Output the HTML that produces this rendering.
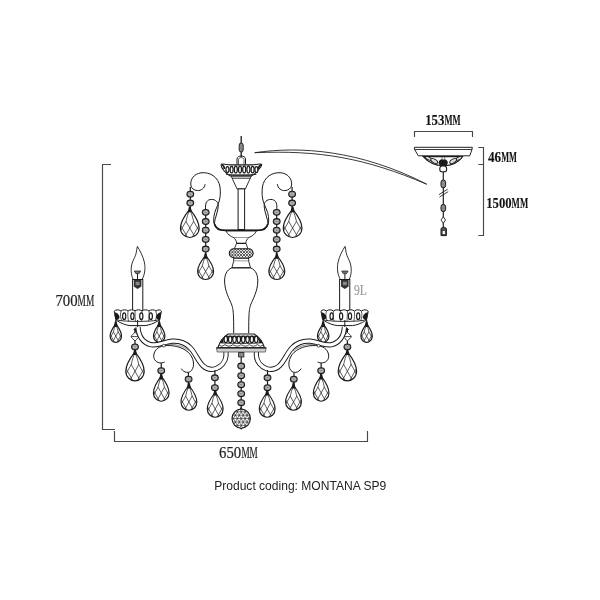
<!DOCTYPE html>
<html><head><meta charset="utf-8"><style>html,body{margin:0;padding:0;background:#fff;width:600px;height:600px;overflow:hidden}svg{display:block;filter:grayscale(100%)}</style></head>
<body><svg width="600" height="600" viewBox="0 0 600 600">
<defs>
<clipPath id="dclip"><path d="M0,0 C-4,5 -10,12 -10,20 C-10,26 -5,30 0,30 C5,30 10,26 10,20 C10,12 4,5 0,0 Z"/></clipPath>
<clipPath id="lowclip"><rect x="-12" y="12.9" width="24" height="20"/></clipPath>
<g id="drop">
 <path d="M0,0 C-4,5 -10,12 -10,20 C-10,26 -5,30 0,30 C5,30 10,26 10,20 C10,12 4,5 0,0 Z" fill="#fff" stroke="#1a1a1a" stroke-width="1.15" vector-effect="non-scaling-stroke"/>
 <g clip-path="url(#dclip)" fill="none">
  <path vector-effect="non-scaling-stroke" stroke="#2a2a2a" stroke-width="0.75" d="M-0.5,1.5 Q-2.8,7 -4.1,13 M0.5,1.5 Q2.8,7 4.1,13"/>
  <g clip-path="url(#lowclip)"><path vector-effect="non-scaling-stroke" stroke="#2a2a2a" stroke-width="0.75" d="M-28.40,-0.40 L-4.40,40.40 M-4.40,-0.40 L-28.40,40.40 M-20.20,-0.40 L3.80,40.40 M3.80,-0.40 L-20.20,40.40 M-12.00,-0.40 L12.00,40.40 M12.00,-0.40 L-12.00,40.40 M-3.80,-0.40 L20.20,40.40 M20.20,-0.40 L-3.80,40.40 M4.40,-0.40 L28.40,40.40 M28.40,-0.40 L4.40,40.40"/></g>
 </g>
</g>
<pattern id="knurl" patternUnits="userSpaceOnUse" width="2.9" height="2.9" x="229.5" y="249.2">
 <rect width="2.9" height="2.9" fill="#fff"/><path d="M0,0 L2.9,2.9 M2.9,0 L0,2.9" stroke="#222" stroke-width="0.75"/>
</pattern>
<pattern id="ballpat" patternUnits="userSpaceOnUse" width="4" height="3.46" x="1" y="0.5">
 <rect width="4" height="3.46" fill="#fff"/><path d="M0,0 L4,0 M0,3.46 L4,3.46 M0,0 L2,3.46 L4,0 M-2,3.46 L0,0 M4,0 L6,3.46 M2,3.46 L0,6.92 M2,3.46 L4,6.92 M0,-3.46 L2,0 M4,-3.46 L2,0" stroke="#2a2a2a" stroke-width="0.55"/>
</pattern>
</defs>
<rect width="600" height="600" fill="#fff"/>
<path d="M111,164.5 L102.5,164.5 L102.5,429.5 L115,429.5" fill="none" stroke="#484848" stroke-width="1.15"/>
<path d="M114.5,431 L114.5,441.5 L367.5,441.5 L367.5,431" fill="none" stroke="#484848" stroke-width="1.15"/>
<path d="M414.5,137 L414.5,131.5 L472.5,131.5 L472.5,137" fill="none" stroke="#484848" stroke-width="1.15"/>
<path d="M478.3,147.5 L483.5,147.5 L483.5,235.5 L478.3,235.5 M478.3,164.5 L483.5,164.5" fill="none" stroke="#484848" stroke-width="1.15"/>
<path d="M254.7,152.7 C300,146 360,150 426.7,184.2 C365,158 320,150 254.7,152.7 Z" fill="#fff" stroke="#222" stroke-width="0.9"/>
<path d="M414.3,147.3 L472.3,147.3 L472,149.5 L469.7,155.8 L418.3,155.8 L414.6,149.5 Z" fill="#fff" stroke="#222" stroke-width="1"/>
<line x1="414.6" y1="149.5" x2="472" y2="149.5" stroke="#222" stroke-width="0.9"/>
<path d="M423.2,156.6 C427,161 434,165.5 443.7,165.8 C453.4,165.5 459.4,161 462.4,156.6 Z" fill="#fff" stroke="#1a1a1a" stroke-width="1.1"/>
<ellipse cx="428.5" cy="158.4" rx="3.2" ry="1.4" transform="rotate(25 428.5 158.4)" fill="#ddd" stroke="#1a1a1a" stroke-width="0.9"/>
<ellipse cx="434.2" cy="161" rx="3.8" ry="1.8" transform="rotate(30 434.2 161)" fill="#ddd" stroke="#1a1a1a" stroke-width="0.9"/>
<ellipse cx="458.9" cy="158.4" rx="3.2" ry="1.4" transform="rotate(-25 458.9 158.4)" fill="#ddd" stroke="#1a1a1a" stroke-width="0.9"/>
<ellipse cx="453.2" cy="161" rx="3.8" ry="1.8" transform="rotate(-30 453.2 161)" fill="#ddd" stroke="#1a1a1a" stroke-width="0.9"/>
<ellipse cx="443.2" cy="162.6" rx="4.6" ry="3.6" fill="#1a1a1a"/>
<rect x="441.8" y="157" width="3" height="2.8" rx="1" fill="#eee" stroke="#333" stroke-width="0.6"/>
<rect x="439.8" y="166" width="6.8" height="5.8" rx="2.4" fill="#fff" stroke="#1a1a1a" stroke-width="1.1"/>
<line x1="443.3" y1="172" x2="443.3" y2="227" stroke="#222" stroke-width="1.2"/>
<rect x="441" y="180" width="4.6" height="7.8" rx="2.2" fill="#8a8a8a" stroke="#1a1a1a" stroke-width="1"/>
<path d="M439,194.6 L447.7,189.2 M439.5,197 L448.2,191.6" stroke="#222" stroke-width="0.9"/>
<rect x="441" y="204.4" width="4.6" height="7.2" rx="2.2" fill="#8a8a8a" stroke="#1a1a1a" stroke-width="1"/>
<path d="M443.3,216.8 L445.5,220 L443.3,223.3 L441,220 Z" fill="#fff" stroke="#222" stroke-width="0.9"/>
<path d="M441,235.6 L441,229 C441,226.8 446.4,226.8 446.4,229 L446.4,235.6 Z" fill="#555" stroke="#1a1a1a" stroke-width="1"/>
<rect x="442.2" y="230.6" width="3" height="3.8" fill="#fff" stroke="#222" stroke-width="0.6"/>
<g id="lh">
<path d="M205.1,184.2 C204.4,188.5 201,190.8 197.5,190.6 C194,190.4 191.2,188.4 190.8,185 C190.3,179 194,174 201,172.8 C210,171.8 218.5,177 220,187 C221,196 219.5,201 217.6,205.5 C215.6,210 213.4,214.5 213.7,221 C214,227 218,230.3 224,230.3 L241.2,230.3" fill="none" stroke="#1a1a1a" stroke-width="1"/>
<path d="M205.6,210 C205.2,204 206,200.5 210,199.6 C214,198.8 218,201 218.2,205 C218.4,209 216.8,213 215.8,217 C215.1,219.5 214.6,221 214.4,224" fill="none" stroke="#1a1a1a" stroke-width="1"/>
<path d="M214.6,224 C215.5,228 219,230.4 225,230.4 L241.2,230.4" fill="none" stroke="#1a1a1a" stroke-width="1.7"/>
<line x1="190.30" y1="187.00" x2="190.30" y2="209.00" stroke="#1a1a1a" stroke-width="1.2"/>
<ellipse cx="190.30" cy="194.20" rx="3.4" ry="2.9" fill="#858585" stroke="#1a1a1a" stroke-width="1.05"/><ellipse cx="190.30" cy="194.20" rx="1.70" ry="1.22" fill="none" stroke="#d8d8d8" stroke-width="0.7"/>
<ellipse cx="190.30" cy="203.00" rx="3.4" ry="2.9" fill="#858585" stroke="#1a1a1a" stroke-width="1.05"/><ellipse cx="190.30" cy="203.00" rx="1.70" ry="1.22" fill="none" stroke="#d8d8d8" stroke-width="0.7"/>
<use href="#drop" transform="translate(189.80,209.00) scale(0.935,0.950)"/>
<path d="M187.70,212.20 L188.90,206.80 L190.70,206.80 L191.90,212.20 Z" fill="#1a1a1a"/>
<line x1="205.70" y1="209.00" x2="205.70" y2="256.00" stroke="#1a1a1a" stroke-width="1.2"/>
<ellipse cx="205.70" cy="212.30" rx="3.4" ry="2.9" fill="#858585" stroke="#1a1a1a" stroke-width="1.05"/><ellipse cx="205.70" cy="212.30" rx="1.70" ry="1.22" fill="none" stroke="#d8d8d8" stroke-width="0.7"/>
<ellipse cx="205.70" cy="221.50" rx="3.4" ry="2.9" fill="#858585" stroke="#1a1a1a" stroke-width="1.05"/><ellipse cx="205.70" cy="221.50" rx="1.70" ry="1.22" fill="none" stroke="#d8d8d8" stroke-width="0.7"/>
<ellipse cx="205.70" cy="230.20" rx="3.4" ry="2.9" fill="#858585" stroke="#1a1a1a" stroke-width="1.05"/><ellipse cx="205.70" cy="230.20" rx="1.70" ry="1.22" fill="none" stroke="#d8d8d8" stroke-width="0.7"/>
<ellipse cx="205.70" cy="239.40" rx="3.4" ry="2.9" fill="#858585" stroke="#1a1a1a" stroke-width="1.05"/><ellipse cx="205.70" cy="239.40" rx="1.70" ry="1.22" fill="none" stroke="#d8d8d8" stroke-width="0.7"/>
<ellipse cx="205.70" cy="249.00" rx="3.4" ry="2.9" fill="#858585" stroke="#1a1a1a" stroke-width="1.05"/><ellipse cx="205.70" cy="249.00" rx="1.70" ry="1.22" fill="none" stroke="#d8d8d8" stroke-width="0.7"/>
<use href="#drop" transform="translate(205.60,255.50) scale(0.800,0.800)"/>
<path d="M203.50,258.70 L204.70,253.30 L206.50,253.30 L207.70,258.70 Z" fill="#1a1a1a"/>
<path d="M137.4,246.4 C139.6,250 143,256 144.3,262 C145.6,268 145,274 142.1,279.5 L133.3,279.5 C130.8,275 130.6,268 132.2,263 C133.5,259 135.6,256.5 136.3,252.5 C136.6,250.5 136.8,248.5 137.4,246.4 Z" fill="#fff" stroke="#1a1a1a" stroke-width="0.9"/>
<path d="M134.3,271 L140.7,271 L139.2,273.6 L135.8,273.6 Z" fill="#777" stroke="#1a1a1a" stroke-width="0.7"/>
<line x1="137.5" y1="273.5" x2="137.5" y2="279.5" stroke="#1a1a1a" stroke-width="1"/>
<rect x="132.6" y="279.5" width="10.2" height="31" fill="#fff" stroke="#1a1a1a" stroke-width="1"/>
<path d="M133.8,280 L141.4,280 L141.4,286.5 L137.6,289 L133.8,286.5 Z" fill="#333"/>
<rect x="135.6" y="281.8" width="4" height="3.4" fill="#888"/>
<path d="M114.2,311.2 C116,309.2 119,309.6 121,311 C123,309.4 126,309.4 128,311 C130,309.4 133,309.4 135,311 C137,309.4 140,309.4 142,311 C144,309.4 147,309.4 149,311 C151,309.4 154,309.4 156,311 C158,309.4 160.5,309.6 161.4,311.2 C161,314 160,318 158.5,320.5 C154,323.5 149,325.2 145,325.6 L130,325.6 C126,325.2 121,323.5 116.8,320.5 C115.5,318 114.5,314 114.2,311.2 Z" fill="#fff" stroke="#1a1a1a" stroke-width="1"/>
<path d="M118,320.2 C126,321.8 149,321.8 157.4,320.2" fill="none" stroke="#1a1a1a" stroke-width="0.9"/>
<path d="M121,311.2 C120,315 120.5,318.5 122,321 M128,311.2 C127.6,315 127.9,318.5 128.6,321.4 M135,311.2 C135,315 135.2,318.5 135.4,321.6 M142,311.2 C142,315 141.8,318.5 141.6,321.6 M149,311.2 C149.4,315 149.1,318.5 148.4,321.4 M156,311.2 C157,315 156.5,318.5 155,321" fill="none" stroke="#1a1a1a" stroke-width="0.7"/>
<ellipse cx="124.2" cy="316.2" rx="1.6" ry="3.3" fill="#fff" stroke="#1a1a1a" stroke-width="1.2"/>
<ellipse cx="132.4" cy="316.2" rx="1.6" ry="3.3" fill="#fff" stroke="#1a1a1a" stroke-width="1.2"/>
<ellipse cx="141.3" cy="316.2" rx="1.6" ry="3.3" fill="#fff" stroke="#1a1a1a" stroke-width="1.2"/>
<ellipse cx="150.8" cy="316.2" rx="1.6" ry="3.3" fill="#fff" stroke="#1a1a1a" stroke-width="1.2"/>
<path d="M114.6,312.2 C117,312.5 119.5,314.5 119.5,317.5 C118.5,320 116.5,320.5 115.5,320 C114.8,318 114.5,315 114.6,312.2 Z" fill="#1a1a1a"/>
<path d="M161,312.2 C158.6,312.5 156.1,314.5 156.1,317.5 C157.1,320 159.1,320.5 160.1,320 C160.8,318 161.1,315 161,312.2 Z" fill="#1a1a1a"/>
<line x1="137.6" y1="320" x2="137.6" y2="329" stroke="#1a1a1a" stroke-width="1"/>
<line x1="115.80" y1="320.00" x2="115.80" y2="324.00" stroke="#1a1a1a" stroke-width="1.2"/>
<use href="#drop" transform="translate(115.80,323.80) scale(0.570,0.617)"/>
<path d="M113.70,327.00 L114.90,321.60 L116.70,321.60 L117.90,327.00 Z" fill="#1a1a1a"/>
<line x1="159.20" y1="320.00" x2="159.20" y2="324.00" stroke="#1a1a1a" stroke-width="1.2"/>
<use href="#drop" transform="translate(159.20,323.80) scale(0.570,0.617)"/>
<path d="M157.10,327.00 L158.30,321.60 L160.10,321.60 L161.30,327.00 Z" fill="#1a1a1a"/>
<line x1="135.00" y1="328.00" x2="135.00" y2="352.00" stroke="#1a1a1a" stroke-width="1.2"/>
<path d="M133.2,329 L136.8,329 L136.2,332.5 Z" fill="#1a1a1a"/><path d="M135,332.3 C136.5,334 138.6,335.2 138.8,336.6 C138.6,338 136.5,339.2 135,340.9 C133.5,339.2 131.4,338 131.2,336.6 C131.4,335.2 133.5,334 135,332.3 Z" fill="#fff" stroke="#1a1a1a" stroke-width="0.9"/>
<line x1="131.2" y1="336.6" x2="138.8" y2="336.6" stroke="#1a1a1a" stroke-width="0.8"/>
<ellipse cx="135.00" cy="346.90" rx="3.4" ry="2.9" fill="#858585" stroke="#1a1a1a" stroke-width="1.05"/><ellipse cx="135.00" cy="346.90" rx="1.70" ry="1.22" fill="none" stroke="#d8d8d8" stroke-width="0.7"/>
<use href="#drop" transform="translate(135.00,351.90) scale(0.920,0.967)"/>
<path d="M132.90,355.10 L134.10,349.70 L135.90,349.70 L137.10,355.10 Z" fill="#1a1a1a"/>
<path d="M138,327 C138.5,336 143,343 151.5,344.8 C158,346 164,342 172,341.2 C180,340.6 186,343.5 190,347.5 C195,352.5 198,361 203,365.8 C207,369.5 212,370 216,368.6 C221,366.8 225.5,362 226,356 L226,351" fill="none" stroke="#1a1a1a" stroke-width="5.2"/>
<path d="M138,327 C138.5,336 143,343 151.5,344.8 C158,346 164,342 172,341.2 C180,340.6 186,343.5 190,347.5 C195,352.5 198,361 203,365.8 C207,369.5 212,370 216,368.6 C221,366.8 225.5,362 226,356 L226,351" fill="none" stroke="#fff" stroke-width="3.3"/>
<path d="M164.7,362 C161,364 155,363 153.8,357.5 C153,351 158,346.5 164,345.8 C172,344.8 182,346.5 188.5,352.5 C194,358 195,366 191.5,370.5 C189,373.5 184,373 181.3,368.7" fill="none" stroke="#1a1a1a" stroke-width="1"/>
<path d="M166,344.6 C174,343.6 183,345.5 189.5,351" fill="none" stroke="#555" stroke-width="0.7"/>
<circle cx="163.8" cy="345.7" r="1.4" fill="#fff" stroke="#1a1a1a" stroke-width="0.7"/>
<line x1="161.25" y1="363.00" x2="161.25" y2="377.00" stroke="#1a1a1a" stroke-width="1.2"/>
<ellipse cx="161.25" cy="370.70" rx="3.4" ry="2.9" fill="#858585" stroke="#1a1a1a" stroke-width="1.05"/><ellipse cx="161.25" cy="370.70" rx="1.70" ry="1.22" fill="none" stroke="#d8d8d8" stroke-width="0.7"/>
<use href="#drop" transform="translate(161.25,376.25) scale(0.780,0.833)"/>
<path d="M159.15,379.45 L160.35,374.05 L162.15,374.05 L163.35,379.45 Z" fill="#1a1a1a"/>
<line x1="188.40" y1="372.50" x2="188.40" y2="386.00" stroke="#1a1a1a" stroke-width="1.2"/>
<ellipse cx="188.60" cy="379.20" rx="3.4" ry="2.9" fill="#858585" stroke="#1a1a1a" stroke-width="1.05"/><ellipse cx="188.60" cy="379.20" rx="1.70" ry="1.22" fill="none" stroke="#d8d8d8" stroke-width="0.7"/>
<use href="#drop" transform="translate(188.90,385.30) scale(0.790,0.833)"/>
<path d="M186.80,388.50 L188.00,383.10 L189.80,383.10 L191.00,388.50 Z" fill="#1a1a1a"/>
<line x1="214.90" y1="370.00" x2="214.90" y2="393.00" stroke="#1a1a1a" stroke-width="1.2"/>
<ellipse cx="214.90" cy="377.75" rx="3.4" ry="2.9" fill="#858585" stroke="#1a1a1a" stroke-width="1.05"/><ellipse cx="214.90" cy="377.75" rx="1.70" ry="1.22" fill="none" stroke="#d8d8d8" stroke-width="0.7"/>
<ellipse cx="214.90" cy="387.70" rx="3.4" ry="2.9" fill="#858585" stroke="#1a1a1a" stroke-width="1.05"/><ellipse cx="214.90" cy="387.70" rx="1.70" ry="1.22" fill="none" stroke="#d8d8d8" stroke-width="0.7"/>
<use href="#drop" transform="translate(215.20,392.30) scale(0.790,0.833)"/>
<path d="M213.10,395.50 L214.30,390.10 L216.10,390.10 L217.30,395.50 Z" fill="#1a1a1a"/>
</g>
<g transform="translate(482.40,0) scale(-1,1)">
<path d="M205.1,184.2 C204.4,188.5 201,190.8 197.5,190.6 C194,190.4 191.2,188.4 190.8,185 C190.3,179 194,174 201,172.8 C210,171.8 218.5,177 220,187 C221,196 219.5,201 217.6,205.5 C215.6,210 213.4,214.5 213.7,221 C214,227 218,230.3 224,230.3 L241.2,230.3" fill="none" stroke="#1a1a1a" stroke-width="1"/>
<path d="M205.6,210 C205.2,204 206,200.5 210,199.6 C214,198.8 218,201 218.2,205 C218.4,209 216.8,213 215.8,217 C215.1,219.5 214.6,221 214.4,224" fill="none" stroke="#1a1a1a" stroke-width="1"/>
<path d="M214.6,224 C215.5,228 219,230.4 225,230.4 L241.2,230.4" fill="none" stroke="#1a1a1a" stroke-width="1.7"/>
<line x1="190.30" y1="187.00" x2="190.30" y2="209.00" stroke="#1a1a1a" stroke-width="1.2"/>
<ellipse cx="190.30" cy="194.20" rx="3.4" ry="2.9" fill="#858585" stroke="#1a1a1a" stroke-width="1.05"/><ellipse cx="190.30" cy="194.20" rx="1.70" ry="1.22" fill="none" stroke="#d8d8d8" stroke-width="0.7"/>
<ellipse cx="190.30" cy="203.00" rx="3.4" ry="2.9" fill="#858585" stroke="#1a1a1a" stroke-width="1.05"/><ellipse cx="190.30" cy="203.00" rx="1.70" ry="1.22" fill="none" stroke="#d8d8d8" stroke-width="0.7"/>
<use href="#drop" transform="translate(189.80,209.00) scale(0.935,0.950)"/>
<path d="M187.70,212.20 L188.90,206.80 L190.70,206.80 L191.90,212.20 Z" fill="#1a1a1a"/>
<line x1="205.70" y1="209.00" x2="205.70" y2="256.00" stroke="#1a1a1a" stroke-width="1.2"/>
<ellipse cx="205.70" cy="212.30" rx="3.4" ry="2.9" fill="#858585" stroke="#1a1a1a" stroke-width="1.05"/><ellipse cx="205.70" cy="212.30" rx="1.70" ry="1.22" fill="none" stroke="#d8d8d8" stroke-width="0.7"/>
<ellipse cx="205.70" cy="221.50" rx="3.4" ry="2.9" fill="#858585" stroke="#1a1a1a" stroke-width="1.05"/><ellipse cx="205.70" cy="221.50" rx="1.70" ry="1.22" fill="none" stroke="#d8d8d8" stroke-width="0.7"/>
<ellipse cx="205.70" cy="230.20" rx="3.4" ry="2.9" fill="#858585" stroke="#1a1a1a" stroke-width="1.05"/><ellipse cx="205.70" cy="230.20" rx="1.70" ry="1.22" fill="none" stroke="#d8d8d8" stroke-width="0.7"/>
<ellipse cx="205.70" cy="239.40" rx="3.4" ry="2.9" fill="#858585" stroke="#1a1a1a" stroke-width="1.05"/><ellipse cx="205.70" cy="239.40" rx="1.70" ry="1.22" fill="none" stroke="#d8d8d8" stroke-width="0.7"/>
<ellipse cx="205.70" cy="249.00" rx="3.4" ry="2.9" fill="#858585" stroke="#1a1a1a" stroke-width="1.05"/><ellipse cx="205.70" cy="249.00" rx="1.70" ry="1.22" fill="none" stroke="#d8d8d8" stroke-width="0.7"/>
<use href="#drop" transform="translate(205.60,255.50) scale(0.800,0.800)"/>
<path d="M203.50,258.70 L204.70,253.30 L206.50,253.30 L207.70,258.70 Z" fill="#1a1a1a"/>
<path d="M137.4,246.4 C139.6,250 143,256 144.3,262 C145.6,268 145,274 142.1,279.5 L133.3,279.5 C130.8,275 130.6,268 132.2,263 C133.5,259 135.6,256.5 136.3,252.5 C136.6,250.5 136.8,248.5 137.4,246.4 Z" fill="#fff" stroke="#1a1a1a" stroke-width="0.9"/>
<path d="M134.3,271 L140.7,271 L139.2,273.6 L135.8,273.6 Z" fill="#777" stroke="#1a1a1a" stroke-width="0.7"/>
<line x1="137.5" y1="273.5" x2="137.5" y2="279.5" stroke="#1a1a1a" stroke-width="1"/>
<rect x="132.6" y="279.5" width="10.2" height="31" fill="#fff" stroke="#1a1a1a" stroke-width="1"/>
<path d="M133.8,280 L141.4,280 L141.4,286.5 L137.6,289 L133.8,286.5 Z" fill="#333"/>
<rect x="135.6" y="281.8" width="4" height="3.4" fill="#888"/>
<path d="M114.2,311.2 C116,309.2 119,309.6 121,311 C123,309.4 126,309.4 128,311 C130,309.4 133,309.4 135,311 C137,309.4 140,309.4 142,311 C144,309.4 147,309.4 149,311 C151,309.4 154,309.4 156,311 C158,309.4 160.5,309.6 161.4,311.2 C161,314 160,318 158.5,320.5 C154,323.5 149,325.2 145,325.6 L130,325.6 C126,325.2 121,323.5 116.8,320.5 C115.5,318 114.5,314 114.2,311.2 Z" fill="#fff" stroke="#1a1a1a" stroke-width="1"/>
<path d="M118,320.2 C126,321.8 149,321.8 157.4,320.2" fill="none" stroke="#1a1a1a" stroke-width="0.9"/>
<path d="M121,311.2 C120,315 120.5,318.5 122,321 M128,311.2 C127.6,315 127.9,318.5 128.6,321.4 M135,311.2 C135,315 135.2,318.5 135.4,321.6 M142,311.2 C142,315 141.8,318.5 141.6,321.6 M149,311.2 C149.4,315 149.1,318.5 148.4,321.4 M156,311.2 C157,315 156.5,318.5 155,321" fill="none" stroke="#1a1a1a" stroke-width="0.7"/>
<ellipse cx="124.2" cy="316.2" rx="1.6" ry="3.3" fill="#fff" stroke="#1a1a1a" stroke-width="1.2"/>
<ellipse cx="132.4" cy="316.2" rx="1.6" ry="3.3" fill="#fff" stroke="#1a1a1a" stroke-width="1.2"/>
<ellipse cx="141.3" cy="316.2" rx="1.6" ry="3.3" fill="#fff" stroke="#1a1a1a" stroke-width="1.2"/>
<ellipse cx="150.8" cy="316.2" rx="1.6" ry="3.3" fill="#fff" stroke="#1a1a1a" stroke-width="1.2"/>
<path d="M114.6,312.2 C117,312.5 119.5,314.5 119.5,317.5 C118.5,320 116.5,320.5 115.5,320 C114.8,318 114.5,315 114.6,312.2 Z" fill="#1a1a1a"/>
<path d="M161,312.2 C158.6,312.5 156.1,314.5 156.1,317.5 C157.1,320 159.1,320.5 160.1,320 C160.8,318 161.1,315 161,312.2 Z" fill="#1a1a1a"/>
<line x1="137.6" y1="320" x2="137.6" y2="329" stroke="#1a1a1a" stroke-width="1"/>
<line x1="115.80" y1="320.00" x2="115.80" y2="324.00" stroke="#1a1a1a" stroke-width="1.2"/>
<use href="#drop" transform="translate(115.80,323.80) scale(0.570,0.617)"/>
<path d="M113.70,327.00 L114.90,321.60 L116.70,321.60 L117.90,327.00 Z" fill="#1a1a1a"/>
<line x1="159.20" y1="320.00" x2="159.20" y2="324.00" stroke="#1a1a1a" stroke-width="1.2"/>
<use href="#drop" transform="translate(159.20,323.80) scale(0.570,0.617)"/>
<path d="M157.10,327.00 L158.30,321.60 L160.10,321.60 L161.30,327.00 Z" fill="#1a1a1a"/>
<line x1="135.00" y1="328.00" x2="135.00" y2="352.00" stroke="#1a1a1a" stroke-width="1.2"/>
<path d="M133.2,329 L136.8,329 L136.2,332.5 Z" fill="#1a1a1a"/><path d="M135,332.3 C136.5,334 138.6,335.2 138.8,336.6 C138.6,338 136.5,339.2 135,340.9 C133.5,339.2 131.4,338 131.2,336.6 C131.4,335.2 133.5,334 135,332.3 Z" fill="#fff" stroke="#1a1a1a" stroke-width="0.9"/>
<line x1="131.2" y1="336.6" x2="138.8" y2="336.6" stroke="#1a1a1a" stroke-width="0.8"/>
<ellipse cx="135.00" cy="346.90" rx="3.4" ry="2.9" fill="#858585" stroke="#1a1a1a" stroke-width="1.05"/><ellipse cx="135.00" cy="346.90" rx="1.70" ry="1.22" fill="none" stroke="#d8d8d8" stroke-width="0.7"/>
<use href="#drop" transform="translate(135.00,351.90) scale(0.920,0.967)"/>
<path d="M132.90,355.10 L134.10,349.70 L135.90,349.70 L137.10,355.10 Z" fill="#1a1a1a"/>
<path d="M138,327 C138.5,336 143,343 151.5,344.8 C158,346 164,342 172,341.2 C180,340.6 186,343.5 190,347.5 C195,352.5 198,361 203,365.8 C207,369.5 212,370 216,368.6 C221,366.8 225.5,362 226,356 L226,351" fill="none" stroke="#1a1a1a" stroke-width="5.2"/>
<path d="M138,327 C138.5,336 143,343 151.5,344.8 C158,346 164,342 172,341.2 C180,340.6 186,343.5 190,347.5 C195,352.5 198,361 203,365.8 C207,369.5 212,370 216,368.6 C221,366.8 225.5,362 226,356 L226,351" fill="none" stroke="#fff" stroke-width="3.3"/>
<path d="M164.7,362 C161,364 155,363 153.8,357.5 C153,351 158,346.5 164,345.8 C172,344.8 182,346.5 188.5,352.5 C194,358 195,366 191.5,370.5 C189,373.5 184,373 181.3,368.7" fill="none" stroke="#1a1a1a" stroke-width="1"/>
<path d="M166,344.6 C174,343.6 183,345.5 189.5,351" fill="none" stroke="#555" stroke-width="0.7"/>
<circle cx="163.8" cy="345.7" r="1.4" fill="#fff" stroke="#1a1a1a" stroke-width="0.7"/>
<line x1="161.25" y1="363.00" x2="161.25" y2="377.00" stroke="#1a1a1a" stroke-width="1.2"/>
<ellipse cx="161.25" cy="370.70" rx="3.4" ry="2.9" fill="#858585" stroke="#1a1a1a" stroke-width="1.05"/><ellipse cx="161.25" cy="370.70" rx="1.70" ry="1.22" fill="none" stroke="#d8d8d8" stroke-width="0.7"/>
<use href="#drop" transform="translate(161.25,376.25) scale(0.780,0.833)"/>
<path d="M159.15,379.45 L160.35,374.05 L162.15,374.05 L163.35,379.45 Z" fill="#1a1a1a"/>
<line x1="188.40" y1="372.50" x2="188.40" y2="386.00" stroke="#1a1a1a" stroke-width="1.2"/>
<ellipse cx="188.60" cy="379.20" rx="3.4" ry="2.9" fill="#858585" stroke="#1a1a1a" stroke-width="1.05"/><ellipse cx="188.60" cy="379.20" rx="1.70" ry="1.22" fill="none" stroke="#d8d8d8" stroke-width="0.7"/>
<use href="#drop" transform="translate(188.90,385.30) scale(0.790,0.833)"/>
<path d="M186.80,388.50 L188.00,383.10 L189.80,383.10 L191.00,388.50 Z" fill="#1a1a1a"/>
<line x1="214.90" y1="370.00" x2="214.90" y2="393.00" stroke="#1a1a1a" stroke-width="1.2"/>
<ellipse cx="214.90" cy="377.75" rx="3.4" ry="2.9" fill="#858585" stroke="#1a1a1a" stroke-width="1.05"/><ellipse cx="214.90" cy="377.75" rx="1.70" ry="1.22" fill="none" stroke="#d8d8d8" stroke-width="0.7"/>
<ellipse cx="214.90" cy="387.70" rx="3.4" ry="2.9" fill="#858585" stroke="#1a1a1a" stroke-width="1.05"/><ellipse cx="214.90" cy="387.70" rx="1.70" ry="1.22" fill="none" stroke="#d8d8d8" stroke-width="0.7"/>
<use href="#drop" transform="translate(215.20,392.30) scale(0.790,0.833)"/>
<path d="M213.10,395.50 L214.30,390.10 L216.10,390.10 L217.30,395.50 Z" fill="#1a1a1a"/>
</g>
<line x1="241.2" y1="136" x2="241.2" y2="157" stroke="#1a1a1a" stroke-width="1.3"/>
<rect x="239.2" y="143" width="4" height="9" rx="2" fill="#888" stroke="#1a1a1a" stroke-width="0.9"/>
<path d="M237,164.5 L237,159 C237,155 245.5,155 245.5,159 L245.5,164.5" fill="none" stroke="#1a1a1a" stroke-width="1"/>
<path d="M238.5,164.5 L238.5,159.5 C238.5,157 244,157 244,159.5 L244,164.5" fill="none" stroke="#1a1a1a" stroke-width="0.7"/>
<path d="M221.2,164.3 C223.5,163.4 227,164.8 230,164.9 L252.4,164.9 C255.4,164.8 258.9,163.4 261.7,164.3 C261.8,166.2 259.8,168 257.8,170.5 C256,172.8 253.8,174.8 251.3,175.9 L230.3,175.9 C227.8,174.8 225.6,172.8 223.8,170.5 C221.8,168 220.6,166.2 221.2,164.3 Z" fill="#fff" stroke="#1a1a1a" stroke-width="1.1"/>
<path d="M221.8,164.8 C223.5,165.5 224.5,167 224.2,169 M261.1,164.8 C259.4,165.5 258.4,167 258.7,169" fill="none" stroke="#1a1a1a" stroke-width="1.6"/>
<ellipse cx="227.4" cy="169.6" rx="1.5" ry="3.0" fill="#fff" stroke="#1a1a1a" stroke-width="1.25"/>
<ellipse cx="231.6" cy="169.6" rx="1.5" ry="3.3" fill="#fff" stroke="#1a1a1a" stroke-width="1.25"/>
<ellipse cx="235.8" cy="169.6" rx="1.5" ry="3.4" fill="#fff" stroke="#1a1a1a" stroke-width="1.25"/>
<ellipse cx="240.0" cy="169.6" rx="1.5" ry="3.4" fill="#fff" stroke="#1a1a1a" stroke-width="1.25"/>
<ellipse cx="244.2" cy="169.6" rx="1.5" ry="3.4" fill="#fff" stroke="#1a1a1a" stroke-width="1.25"/>
<ellipse cx="248.4" cy="169.6" rx="1.5" ry="3.4" fill="#fff" stroke="#1a1a1a" stroke-width="1.25"/>
<ellipse cx="252.6" cy="169.6" rx="1.5" ry="3.3" fill="#fff" stroke="#1a1a1a" stroke-width="1.25"/>
<ellipse cx="256.4" cy="169.6" rx="1.5" ry="3.0" fill="#fff" stroke="#1a1a1a" stroke-width="1.25"/>
<path d="M226,174.4 C232,175 250,175 256.4,174.4" fill="none" stroke="#1a1a1a" stroke-width="0.9"/>
<path d="M231.2,176.2 L251.2,176.2 L245.4,188.9 L237,188.9 Z" fill="#fff" stroke="#1a1a1a" stroke-width="0.9"/>
<line x1="232" y1="178.2" x2="250.4" y2="178.2" stroke="#1a1a1a" stroke-width="0.9"/>
<rect x="238.1" y="188.9" width="6.5" height="40.6" fill="#fff" stroke="#1a1a1a" stroke-width="1"/>
<path d="M226,231 L256.4,231 C255,234 252,236.5 248.8,237.5 L233.6,237.5 C230.4,236.5 227.4,234 226,231 Z" fill="#fff" stroke="#1a1a1a" stroke-width="0.9"/>
<path d="M233.6,237.5 C235.5,239 236.4,241 236.6,243.2 L245.8,243.2 C246,241 246.9,239 248.8,237.5" fill="#fff" stroke="#1a1a1a" stroke-width="0.9"/>
<rect x="229.3" y="248.8" width="23.8" height="8.8" rx="4.4" fill="url(#knurl)" stroke="#1a1a1a" stroke-width="1.1"/>
<path d="M236.5,243.5 L234.3,248.8 M246.1,243.5 L247.9,248.8" fill="none" stroke="#1a1a1a" stroke-width="0.9"/><line x1="236.5" y1="243.5" x2="246.1" y2="243.5" stroke="#1a1a1a" stroke-width="1"/>
<path d="M233.7,257.6 L233.7,261.2 L248.7,261.2 L248.7,257.6" fill="#fff" stroke="#1a1a1a" stroke-width="0.9"/>
<line x1="233.7" y1="258.5" x2="248.7" y2="258.5" stroke="#1a1a1a" stroke-width="0.8"/>
<path d="M233.7,261.2 L231.9,267.8 L250.5,267.8 L248.7,261.2" fill="#fff" stroke="#1a1a1a" stroke-width="0.9"/>
<path d="M231.9,267.8 C226.5,270 224.6,275 224.6,281 C224.6,291 229.5,299 231.8,305 C233.3,309.5 233.7,314 233.7,333.3 M250.5,267.8 C255.9,270 257.8,275 257.8,281 C257.8,291 252.9,299 250.6,305 C249.1,309.5 248.7,314 248.7,333.3" fill="none" stroke="#1a1a1a" stroke-width="1"/>
<line x1="231.9" y1="267.8" x2="250.5" y2="267.8" stroke="#1a1a1a" stroke-width="1"/>
<path d="M228.2,334 L254.2,334 C259,337.2 262.8,342 264.4,347.5 L218,347.5 C219.6,342 223.4,337.2 228.2,334 Z" fill="#fff" stroke="#1a1a1a" stroke-width="1.1"/>
<path d="M224.5,336.6 C222,338.6 220.6,341 219.9,343 L223.2,343 C223.6,340.5 224.2,338.5 224.5,336.6 Z M257.9,336.6 C260.4,338.6 261.8,341 262.5,343 L259.2,343 C258.8,340.5 258.2,338.5 257.9,336.6 Z" fill="#222"/>
<path d="M227,335.8 L255.4,335.8 C257.5,337 259.5,338.5 260.8,340 L221.6,340 C222.9,338.5 224.9,337 227,335.8 Z" fill="#3a3a3a"/>
<ellipse cx="225.8" cy="339.4" rx="1.7" ry="3.2" fill="#fff" stroke="#1a1a1a" stroke-width="1.2"/>
<ellipse cx="230.2" cy="339.4" rx="1.7" ry="3.2" fill="#fff" stroke="#1a1a1a" stroke-width="1.2"/>
<ellipse cx="234.5" cy="339.4" rx="1.7" ry="3.2" fill="#fff" stroke="#1a1a1a" stroke-width="1.2"/>
<ellipse cx="238.8" cy="339.4" rx="1.7" ry="3.2" fill="#fff" stroke="#1a1a1a" stroke-width="1.2"/>
<ellipse cx="243.2" cy="339.4" rx="1.7" ry="3.2" fill="#fff" stroke="#1a1a1a" stroke-width="1.2"/>
<ellipse cx="247.5" cy="339.4" rx="1.7" ry="3.2" fill="#fff" stroke="#1a1a1a" stroke-width="1.2"/>
<ellipse cx="251.8" cy="339.4" rx="1.7" ry="3.2" fill="#fff" stroke="#1a1a1a" stroke-width="1.2"/>
<ellipse cx="256.2" cy="339.4" rx="1.7" ry="3.2" fill="#fff" stroke="#1a1a1a" stroke-width="1.2"/>
<path d="M220.2,342.8 C232,343.6 250,343.6 262.2,342.8" fill="none" stroke="#1a1a1a" stroke-width="0.9"/>
<path d="M219.3,345.2 Q222,347.8 225,344.6 Q229,347.8 233,344.6 Q237.2,347.8 241.2,344.6 Q245.2,347.8 249.4,344.6 Q253.4,347.8 257.4,344.6 Q260.4,347.8 263.1,345.2" fill="none" stroke="#1a1a1a" stroke-width="0.8"/>
<path d="M216.4,347.8 L266.2,347.8 L265.4,352 L217.2,352 Z" fill="#cfcfcf" stroke="#555" stroke-width="0.8"/>
<line x1="216.4" y1="347.8" x2="266.2" y2="347.8" stroke="#1a1a1a" stroke-width="1.2"/>
<rect x="238.6" y="352.6" width="5.3" height="4.4" fill="#888" stroke="#1a1a1a" stroke-width="0.8"/>
<line x1="241.20" y1="357.00" x2="241.20" y2="409.00" stroke="#1a1a1a" stroke-width="1.2"/>
<ellipse cx="241.20" cy="366.00" rx="3.4" ry="2.9" fill="#858585" stroke="#1a1a1a" stroke-width="1.05"/><ellipse cx="241.20" cy="366.00" rx="1.70" ry="1.22" fill="none" stroke="#d8d8d8" stroke-width="0.7"/>
<ellipse cx="241.20" cy="375.70" rx="3.4" ry="2.9" fill="#858585" stroke="#1a1a1a" stroke-width="1.05"/><ellipse cx="241.20" cy="375.70" rx="1.70" ry="1.22" fill="none" stroke="#d8d8d8" stroke-width="0.7"/>
<ellipse cx="241.20" cy="384.70" rx="3.4" ry="2.9" fill="#858585" stroke="#1a1a1a" stroke-width="1.05"/><ellipse cx="241.20" cy="384.70" rx="1.70" ry="1.22" fill="none" stroke="#d8d8d8" stroke-width="0.7"/>
<ellipse cx="241.20" cy="393.70" rx="3.4" ry="2.9" fill="#858585" stroke="#1a1a1a" stroke-width="1.05"/><ellipse cx="241.20" cy="393.70" rx="1.70" ry="1.22" fill="none" stroke="#d8d8d8" stroke-width="0.7"/>
<ellipse cx="241.20" cy="402.70" rx="3.4" ry="2.9" fill="#858585" stroke="#1a1a1a" stroke-width="1.05"/><ellipse cx="241.20" cy="402.70" rx="1.70" ry="1.22" fill="none" stroke="#d8d8d8" stroke-width="0.7"/>
<path d="M239.7,427.5 L241.2,430 L242.7,427.5 Z" fill="#1a1a1a"/>
<clipPath id="ballclip"><ellipse cx="241.2" cy="418.6" rx="9.2" ry="9.6"/></clipPath>
<ellipse cx="241.2" cy="418.6" rx="9.2" ry="9.6" fill="#fff"/>
<path clip-path="url(#ballclip)" d="M230.2,398.20 L252.2,398.20 M230.2,401.60 L252.2,401.60 M230.2,405.00 L252.2,405.00 M230.2,408.40 L252.2,408.40 M230.2,411.80 L252.2,411.80 M230.2,415.20 L252.2,415.20 M230.2,418.60 L252.2,418.60 M230.2,422.00 L252.2,422.00 M230.2,425.40 L252.2,425.40 M230.2,428.80 L252.2,428.80 M230.2,432.20 L252.2,432.20 M230.2,435.60 L252.2,435.60 M230.2,439.00 L252.2,439.00 M204.00,408.20 L216.00,429.00 M216.00,408.20 L204.00,429.00 M207.90,408.20 L219.90,429.00 M219.90,408.20 L207.90,429.00 M211.80,408.20 L223.80,429.00 M223.80,408.20 L211.80,429.00 M215.70,408.20 L227.70,429.00 M227.70,408.20 L215.70,429.00 M219.60,408.20 L231.60,429.00 M231.60,408.20 L219.60,429.00 M223.50,408.20 L235.50,429.00 M235.50,408.20 L223.50,429.00 M227.40,408.20 L239.40,429.00 M239.40,408.20 L227.40,429.00 M231.30,408.20 L243.30,429.00 M243.30,408.20 L231.30,429.00 M235.20,408.20 L247.20,429.00 M247.20,408.20 L235.20,429.00 M239.10,408.20 L251.10,429.00 M251.10,408.20 L239.10,429.00 M243.00,408.20 L255.00,429.00 M255.00,408.20 L243.00,429.00 M246.90,408.20 L258.90,429.00 M258.90,408.20 L246.90,429.00 M250.80,408.20 L262.80,429.00 M262.80,408.20 L250.80,429.00 M254.70,408.20 L266.70,429.00 M266.70,408.20 L254.70,429.00 M258.60,408.20 L270.60,429.00 M270.60,408.20 L258.60,429.00 M262.50,408.20 L274.50,429.00 M274.50,408.20 L262.50,429.00 M266.40,408.20 L278.40,429.00 M278.40,408.20 L266.40,429.00" stroke="#222" stroke-width="0.6" fill="none"/>
<ellipse cx="241.2" cy="418.6" rx="9.2" ry="9.6" fill="none" stroke="#1a1a1a" stroke-width="1.1"/>
<path d="M239.6,409.5 L241.2,406.5 L242.79999999999998,409.5 Z" fill="#1a1a1a"/>
<text x="55.4" y="305.8" font-family="Liberation Serif, serif" font-size="15.8" font-weight="normal" fill="#222" stroke="#222" stroke-width="0.2" textLength="22.2" lengthAdjust="spacingAndGlyphs">700</text>
<text x="77.6" y="305.8" font-family="Liberation Serif, serif" font-size="15.8" font-weight="normal" fill="#222" stroke="#222" stroke-width="0.2" textLength="16.6" lengthAdjust="spacingAndGlyphs">MM</text>
<text x="219.0" y="457.8" font-family="Liberation Serif, serif" font-size="15.8" font-weight="normal" fill="#222" stroke="#222" stroke-width="0.2" textLength="22.2" lengthAdjust="spacingAndGlyphs">650</text>
<text x="241.4" y="457.8" font-family="Liberation Serif, serif" font-size="15.8" font-weight="normal" fill="#222" stroke="#222" stroke-width="0.2" textLength="16.4" lengthAdjust="spacingAndGlyphs">MM</text>
<text x="425.2" y="125.2" font-family="Liberation Serif, serif" font-size="14.6" font-weight="bold" fill="#111" stroke="#111" stroke-width="0.1" textLength="19.2" lengthAdjust="spacingAndGlyphs">153</text>
<text x="444.5" y="125.2" font-family="Liberation Serif, serif" font-size="14.6" font-weight="bold" fill="#111" stroke="#111" stroke-width="0.1" textLength="16.2" lengthAdjust="spacingAndGlyphs">MM</text>
<text x="488" y="162.4" font-family="Liberation Serif, serif" font-size="14" font-weight="bold" fill="#111" stroke="#111" stroke-width="0.1" textLength="13.2" lengthAdjust="spacingAndGlyphs">46</text>
<text x="501.2" y="162.4" font-family="Liberation Serif, serif" font-size="14" font-weight="bold" fill="#111" stroke="#111" stroke-width="0.1" textLength="15.8" lengthAdjust="spacingAndGlyphs">MM</text>
<text x="486.2" y="208.4" font-family="Liberation Serif, serif" font-size="14.6" font-weight="bold" fill="#111" stroke="#111" stroke-width="0.1" textLength="25.4" lengthAdjust="spacingAndGlyphs">1500</text>
<text x="511.6" y="208.4" font-family="Liberation Serif, serif" font-size="14.6" font-weight="bold" fill="#111" stroke="#111" stroke-width="0.1" textLength="16.6" lengthAdjust="spacingAndGlyphs">MM</text>
<text x="354" y="294.8" font-family="Liberation Serif, serif" font-size="13.6" font-weight="normal" fill="#9a9a9a" stroke="#9a9a9a" stroke-width="0.2" textLength="12.8" lengthAdjust="spacingAndGlyphs">9L</text>
<text x="214.2" y="489.7" font-family="Liberation Sans, sans-serif" font-size="12" fill="#222" textLength="172" lengthAdjust="spacingAndGlyphs">Product coding: MONTANA SP9</text>
</svg></body></html>
